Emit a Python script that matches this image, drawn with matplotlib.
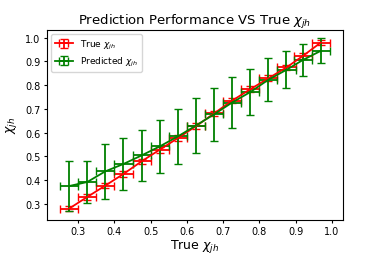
import matplotlib
matplotlib.use('Agg')
import matplotlib.pyplot as plt

# bin centres of true chi_jh
x_vals = [0.275, 0.325, 0.375, 0.425, 0.475, 0.525, 0.575, 0.625,
          0.675, 0.725, 0.775, 0.825, 0.875, 0.92, 0.97]
x_err = [0.025] * 15

true_vals = [0.28, 0.329, 0.377, 0.426, 0.479, 0.528, 0.577, 0.627,
             0.681, 0.735, 0.783, 0.829, 0.875, 0.923, 0.98]
true_err = [0.01, 0.012, 0.012, 0.012, 0.012, 0.012, 0.012, 0.012,
            0.012, 0.012, 0.012, 0.012, 0.012, 0.012, 0.012]

pred_vals = [0.375, 0.392, 0.437, 0.468, 0.504, 0.542, 0.584, 0.63,
             0.677, 0.727, 0.771, 0.823, 0.865, 0.906, 0.945]
pred_err = [0.105, 0.088, 0.115, 0.108, 0.106, 0.112, 0.116, 0.115,
            0.113, 0.107, 0.098, 0.09, 0.078, 0.067, 0.053]

fig = plt.figure(figsize=(3.82, 2.55), dpi=100)
ax = fig.add_axes([0.122, 0.135, 0.777, 0.745])

ax.errorbar(x_vals, true_vals, xerr=x_err, yerr=true_err, color='red',
            capsize=3, linewidth=1.3, elinewidth=1.3, label=r'True $\chi_{jh}$')
ax.errorbar(x_vals, pred_vals, xerr=x_err, yerr=pred_err, color='green',
            capsize=3, linewidth=1.3, elinewidth=1.3, label=r'Predicted $\chi_{jh}$')

ax.set_title(r'Prediction Performance VS True $\chi_{jh}$', fontsize=9.5, pad=4)
ax.set_xlabel(r'True $\chi_{jh}$', fontsize=9, labelpad=1)
ax.set_ylabel(r'$\chi_{jh}$', fontsize=9, labelpad=4)
ax.set_xticks([0.3, 0.4, 0.5, 0.6, 0.7, 0.8, 0.9, 1.0])
ax.set_yticks([0.3, 0.4, 0.5, 0.6, 0.7, 0.8, 0.9, 1.0])
ax.tick_params(labelsize=7, length=2.5, pad=2)
ax.legend(loc='upper left', fontsize=6.5)

fig.savefig('out.png', dpi=100)
